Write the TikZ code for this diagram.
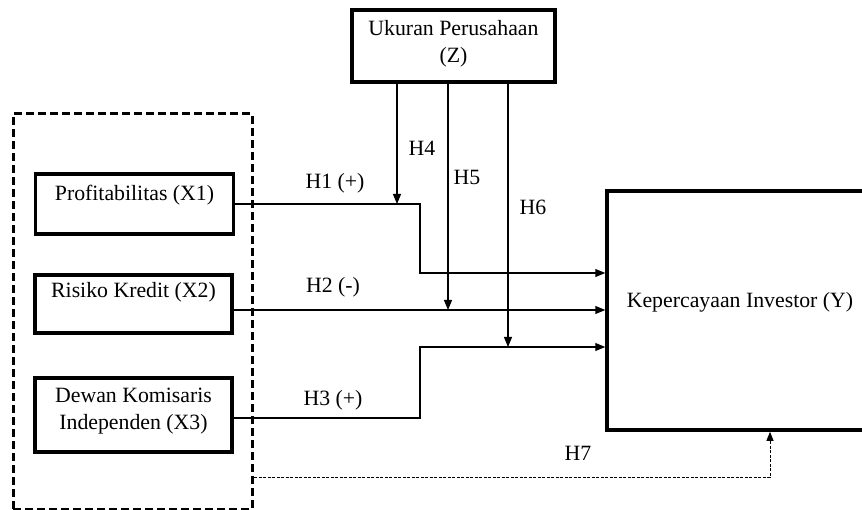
\documentclass[tikz,border=0pt]{standalone}
\usepackage{fontspec}
\setmainfont{Liberation Serif}
\usetikzlibrary{arrows.meta}
\begin{document}
\begin{tikzpicture}[x=1pt,y=-1pt,
  every node/.style={font=\fontsize{21.8}{27}\selectfont, inner sep=0pt},
  thickbox/.style={draw, line width=3.5pt, rectangle},
  txt/.style={align=center},
  conn/.style={line width=1.1pt},
  arr/.style={conn, -{Triangle[length=10pt,width=8pt]}},
  grpbox/.style={draw, line width=3pt, dash pattern=on 8pt off 4pt, rectangle},
  dotline/.style={line width=1pt, dash pattern=on 3pt off 1.5pt, -{Triangle[length=9pt,width=7pt]}}
]
\useasboundingbox (0,0) rectangle (862,510);
% group dashed box
\node[grpbox, minimum width=239pt, minimum height=395pt] (grp) at (132.5,311.5) {};
% top box
\node[thickbox, minimum width=203pt, minimum height=72pt] (z) at (453.5,46) {};
\node[txt] (zt) at (453.5,44) {Ukuran Perusahaan\\(Z)};
% X boxes
\node[thickbox, minimum width=198pt, minimum height=60pt] (x1) at (134.5,204) {};
\node[txt] (x1t) at (134.5,195) {Profitabilitas (X1)};
\node[thickbox, minimum width=197pt, minimum height=58pt] (x2) at (133.5,304) {};
\node[txt] (x2t) at (133.5,292) {Risiko Kredit (X2)};
\node[thickbox, minimum width=197pt, minimum height=74pt] (x3) at (133.5,415) {};
\node[txt] (x3t) at (133.5,411) {Dewan Komisaris\\Independen (X3)};
% Y box (extends beyond right edge)
\node[thickbox, minimum width=300pt, minimum height=239pt] (y) at (757,310.5) {};
\node[txt] (yt) at (740,302) {Kepercayaan Investor (Y)};
% coordinates
\coordinate (b1) at (420,204);
\coordinate (b1d) at (420,273);
\coordinate (b3) at (420,418);
\coordinate (b3u) at (420,347);
% H1
\draw[arr] (x1.east) -- (b1) -- (b1d) -- (b1d -| y.west);
% H2
\draw[arr] (x2.east |- 0,310) -- (y.west |- 0,310);
% H3
\draw[arr] (x3.east |- 0,418) -- (b3) -- (b3u) -- (b3u -| y.west);
% moderation
\coordinate (m4) at (397,204);
\coordinate (m5) at (448,310);
\coordinate (m6) at (508,347);
\draw[arr] (m4 |- z.south) -- (m4);
\draw[arr] (m5 |- z.south) -- (m5);
\draw[arr] (m6 |- z.south) -- (m6);
% H7
\coordinate (h7a) at (254,477);
\coordinate (h7b) at (770,477);
\draw[dotline] (h7a) -- (h7b) -- (h7b |- y.south);
% labels
\node (l1) at (335,183) {H1 (+)};
\node (l2) at (333,287) {H2 (-)};
\node (l3) at (333,400) {H3 (+)};
\node (l4) at (422,148) {H4};
\node (l5) at (467,177) {H5};
\node (l6) at (533,207) {H6};
\node (l7) at (578,453) {H7};
\end{tikzpicture}
\end{document}
